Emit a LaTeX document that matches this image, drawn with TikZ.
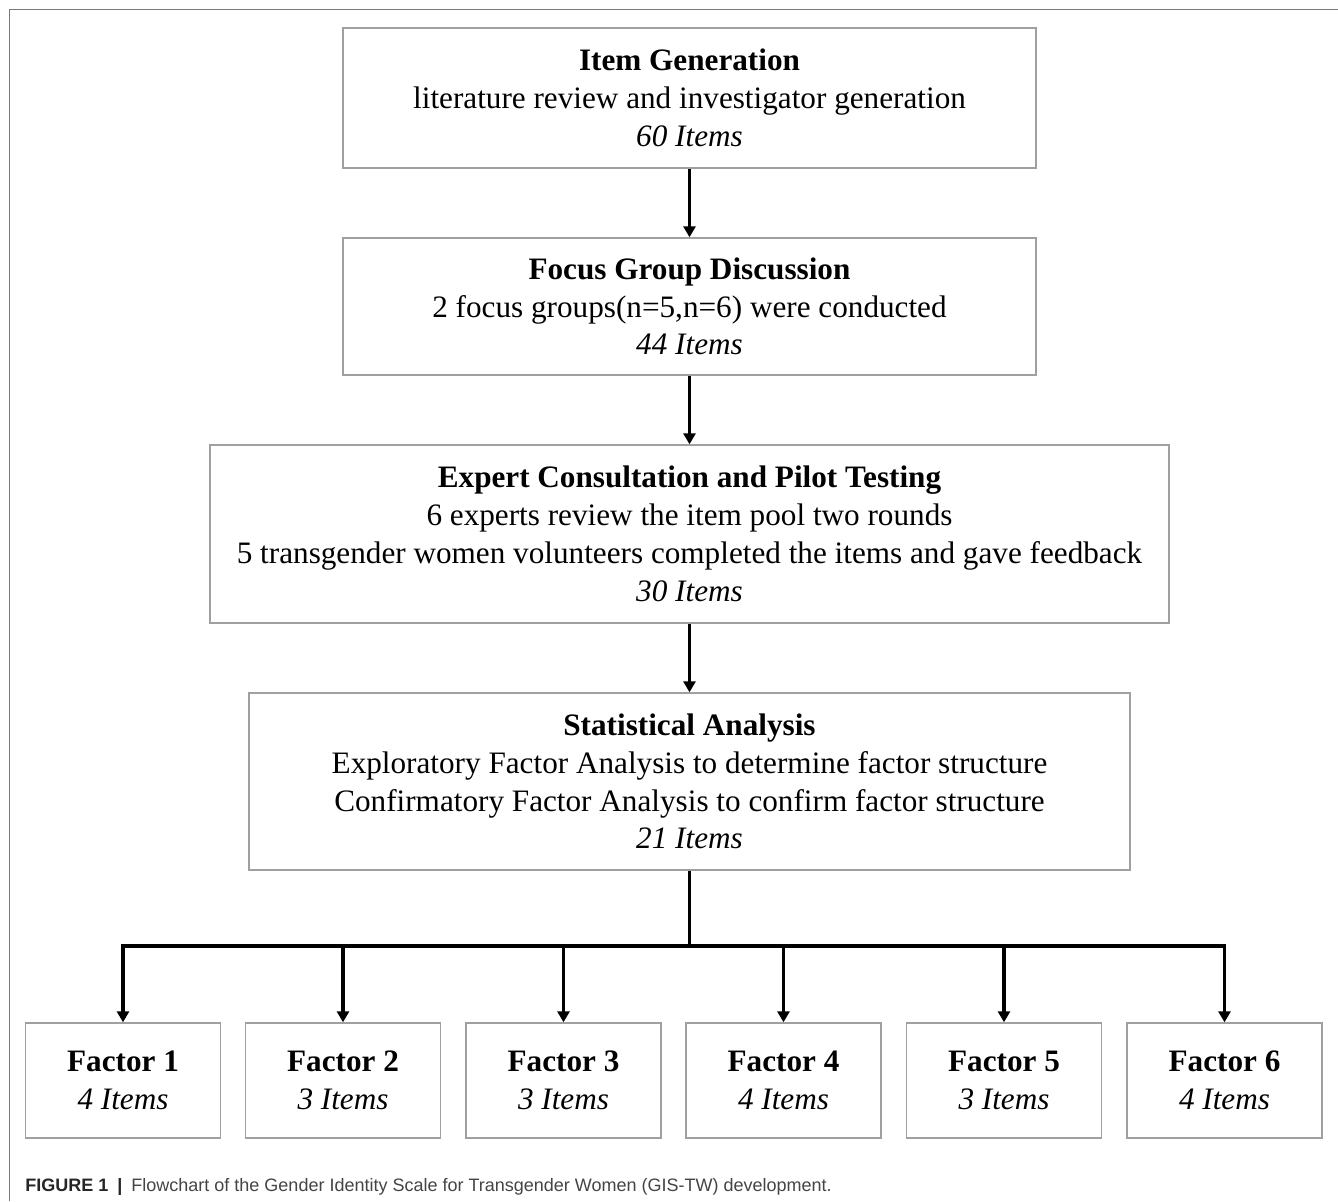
\documentclass[tikz,border=0pt]{standalone}
\usepackage{fontspec}
\setmainfont{Liberation Serif}
\newfontfamily\capfont{Liberation Sans}
\usetikzlibrary{arrows.meta}
\definecolor{boxgray}{HTML}{A0A0A0}
\definecolor{framegray}{HTML}{7A7A7A}
\definecolor{captext}{HTML}{444444}
\begin{document}
\begin{tikzpicture}[x=0.5pt, y=-0.5pt, line join=miter,
    stagebox/.style={draw=boxgray, line width=0.7pt, align=center, inner sep=0pt,
      font=\fontsize{15.6}{18.9}\selectfont},
    factorbox/.style={stagebox, minimum width=97.5pt, minimum height=57.5pt},
    flow/.style={line width=1.6pt, -{Triangle[length=5.5pt,width=6pt]}}]
	\useasboundingbox (0,0) rectangle (1338,1201);
	\draw[framegray, line width=0.8pt] (9.5,1201) -- (9.5,9.5) -- (1338,9.5);
	% stages
	\node[stagebox, minimum width=346.5pt, minimum height=70pt] (gen) at (689.5,98) {\textbf{Item Generation}\\literature review and investigator generation\\\textit{60 Items}};
	\node[stagebox, minimum width=346.5pt, minimum height=68.5pt] (focus) at (689.5,306.5) {\textbf{Focus Group Discussion}\\2 focus groups(n=5,n=6) were conducted\\\textit{44 Items}};
	\node[stagebox, minimum width=479.5pt, minimum height=89pt] (expert) at (689.5,534) {\textbf{Expert Consultation and Pilot Testing}\\6 experts review the item pool two rounds\\5 transgender women volunteers completed the items and gave feedback\\\textit{30 Items}};
	\node[stagebox, minimum width=440.5pt, minimum height=88.5pt] (stat) at (689.5,781.5) {\textbf{Statistical Analysis}\\Exploratory Factor Analysis to determine factor structure\\Confirmatory Factor Analysis to confirm factor structure\\\textit{21 Items}};
	% factors
	\node[factorbox] (f1) at (123,1080.5) {\textbf{Factor 1}\\\textit{4 Items}};
	\node[factorbox] (f2) at (343,1080.5) {\textbf{Factor 2}\\\textit{3 Items}};
	\node[factorbox] (f3) at (563.5,1080.5) {\textbf{Factor 3}\\\textit{3 Items}};
	\node[factorbox] (f4) at (783.5,1080.5) {\textbf{Factor 4}\\\textit{4 Items}};
	\node[factorbox] (f5) at (1004,1080.5) {\textbf{Factor 5}\\\textit{3 Items}};
	\node[factorbox] (f6) at (1224.5,1080.5) {\textbf{Factor 6}\\\textit{4 Items}};
	\coordinate (bus) at (689.5,946);
	\draw[flow] (gen) -- (focus);
	\draw[flow] (focus) -- (expert);
	\draw[flow] (expert) -- (stat);
	\draw[line width=1.6pt] (stat) -- (bus);
	\foreach \i in {1,...,6}
		\draw[flow] (bus) -| (f\i.north);
	% caption
	\node[anchor=west, inner sep=0pt, font=\capfont\fontsize{9}{11}\selectfont, text=captext] (cap) at (25,1187) {\textbf{\color{black!85}FIGURE 1\enspace|}\enspace Flowchart of the Gender Identity Scale for Transgender Women (GIS-TW) development.};
\end{tikzpicture}
\end{document}
